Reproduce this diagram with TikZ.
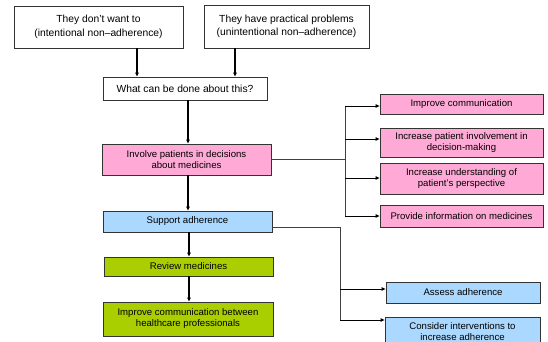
\documentclass[tikz,border=0pt]{standalone}
\usepackage{fontspec}
\setmainfont{Liberation Sans}
\usetikzlibrary{arrows.meta}
\definecolor{pinkf}{HTML}{FFAAD6}
\definecolor{bluef}{HTML}{AAD8FF}
\definecolor{greenf}{HTML}{AACF00}
\definecolor{edgec}{HTML}{333333}
\begin{document}
\begin{tikzpicture}[x=1pt,y=-1pt,
  box/.style={draw=edgec,line width=0.8pt,align=center,inner sep=0pt},
  bigtxt/.style={font=\fontsize{10.3}{13.5}\selectfont},
  smtxt/.style={font=\fontsize{9.6}{11}\selectfont},
  arr/.style={-{Triangle[length=4pt,width=3.5pt]},line width=1.1pt,black},
  conn/.style={line width=0.8pt,draw=black!75},
  carr/.style={-{Triangle[length=4pt,width=3.5pt]},line width=0.9pt,black}]
\useasboundingbox (0,0) rectangle (548,342);
\begin{scope}
\clip (0,0) rectangle (548,342);
% top boxes
\node[box,bigtxt,fill=white,minimum width=169pt,minimum height=42pt] (b1) at (98.5,27) {They don't want to\\(intentional non--adherence)};
\node[box,bigtxt,fill=white,minimum width=165pt,minimum height=43pt] (b2) at (286.5,26.5) {They have practical problems\\(unintentional non--adherence)};
\node[box,bigtxt,fill=white,minimum width=164pt,minimum height=23pt] (b3) at (185,88.5) {What can be done about this?};
% left column
\node[box,smtxt,fill=pinkf,minimum width=169pt,minimum height=31pt] (p) at (186.5,159.5) {Involve patients in decisions\\about medicines};
\node[box,smtxt,fill=bluef,minimum width=169pt,minimum height=21pt] (s) at (187.5,221.5) {Support adherence};
\node[box,smtxt,fill=greenf,minimum width=169pt,minimum height=19pt] (r) at (188.5,266.5) {Review medicines};
\node[box,smtxt,fill=greenf,minimum width=170pt,minimum height=34pt] (ic) at (188,319) {Improve communication between\\healthcare professionals};
% right pink
\node[box,smtxt,fill=pinkf,minimum width=163pt,minimum height=20pt] (pa) at (461.5,104) {Improve communication};
\node[box,smtxt,fill=pinkf,minimum width=163pt,minimum height=29pt] (pb) at (461.5,142.5) {Increase patient involvement in\\decision-making};
\node[box,smtxt,fill=pinkf,minimum width=163pt,minimum height=31pt] (pc) at (461.5,178.5) {Increase understanding of\\patient's perspective};
\node[box,smtxt,fill=pinkf,minimum width=163pt,minimum height=22pt] (pd) at (461.5,216) {Provide information on medicines};
% right blue
\node[box,smtxt,fill=bluef,minimum width=154pt,minimum height=21pt] (ba) at (463,292.5) {Assess adherence};
\node[box,smtxt,fill=bluef,minimum width=155pt,minimum height=30pt] (bb) at (462.5,332) {Consider interventions to\\increase adherence};
% main arrows
\draw[arr] (137,48) -- (b3.north -| 137,0);
\draw[arr] (235,48) -- (b3.north -| 235,0);
\draw[arr] (b3.south -| 188,0) -- (p.north -| 188,0);
\draw[arr] (p.south -| 188,0) -- (s.north -| 188,0);
\draw[arr] (s.south -| 189,0) -- (r.north -| 189,0);
\draw[arr] (r.south -| 189,0) -- (ic.north -| 189,0);
% pink connectors
\coordinate (pj) at (345,159);
\draw[conn] (p.east |- pj) -- (pj);
\draw[conn] (345,106) -- (345,216);
\draw[carr] (345,106) -- (pa.west |- 0,106);
\draw[carr] (345,139) -- (pb.west |- 0,139);
\draw[carr] (345,178) -- (pc.west |- 0,178);
\draw[carr] (345,216) -- (pd.west |- 0,216);
% blue connectors
\coordinate (sj) at (340,227);
\draw[conn] (s.east |- sj) -- (sj) -- (340,320);
\draw[carr] (340,289) -- (ba.west |- 0,289);
\draw[carr] (340,320) -- (bb.west |- 0,320);
\end{scope}
\end{tikzpicture}
\end{document}
